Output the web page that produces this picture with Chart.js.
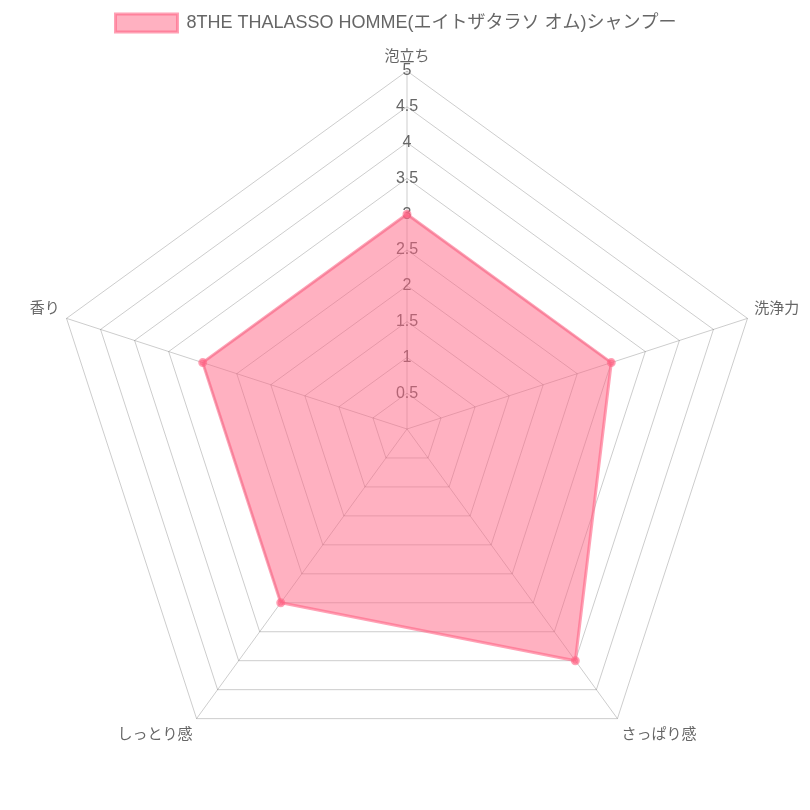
<!DOCTYPE html>
<html>
<head>
<meta charset="utf-8">
<script src="https://cdn.jsdelivr.net/npm/chart.js@4"></script>
<style>
  body { margin: 0; background: #fff; }
  #wrap { width: 810px; height: 810px; }
</style>
</head>
<body>
<div id="wrap"><canvas id="radar"></canvas></div>
<script>
const labels = ["泡立ち", "洗浄力", "さっぱり感", "しっとり感", "香り"];
const seriesName = "8THE THALASSO HOMME(エイトザタラソ オム)シャンプー";
const values = [3, 3, 4, 3, 3];

Chart.defaults.font.family = "'Liberation Sans', 'Noto Sans CJK JP', sans-serif";
Chart.defaults.color = "#666";

// nudge the legend to where it sits in the original
const legendNudge = {
  id: "legendNudge",
  afterLayout(chart) {
    const lg = chart.legend;
    lg.left -= 17; lg.right -= 17;
    lg.top += 3; lg.bottom += 3;
  }
};

new Chart(document.getElementById("radar"), {
  type: "radar",
  data: {
    labels,
    datasets: [{
      label: seriesName,
      data: values,
      backgroundColor: "rgba(255, 99, 132, 0.5)",
      borderColor: "rgba(255, 99, 132, 0.6)",
      borderWidth: 3,
      pointBackgroundColor: "rgba(255, 99, 132, 0.6)",
      pointBorderColor: "rgba(255, 99, 132, 0.6)",
      pointRadius: 3
    }]
  },
  plugins: [legendNudge],
  options: {
    responsive: true,
    maintainAspectRatio: false,
    animation: false,
    layout: { padding: { left: 16, right: 0, top: 1, bottom: 5 } },
    plugins: {
      legend: {
        labels: { font: { size: 18 }, boxWidth: 62, color: "#666" }
      }
    },
    scales: {
      r: {
        min: 0,
        max: 5,
        ticks: {
          stepSize: 0.5,
          backdropColor: "transparent",
          font: { size: 16 },
          color: "#666",
          callback: v => String(v)
        },
        pointLabels: { padding: -3, font: { size: 15, family: "'Noto Sans CJK JP', sans-serif" }, color: "#666" },
        grid: { color: "rgba(0,0,0,0.2)" },
        angleLines: { color: "rgba(0,0,0,0.2)" }
      }
    }
  }
});
</script>
</body>
</html>
